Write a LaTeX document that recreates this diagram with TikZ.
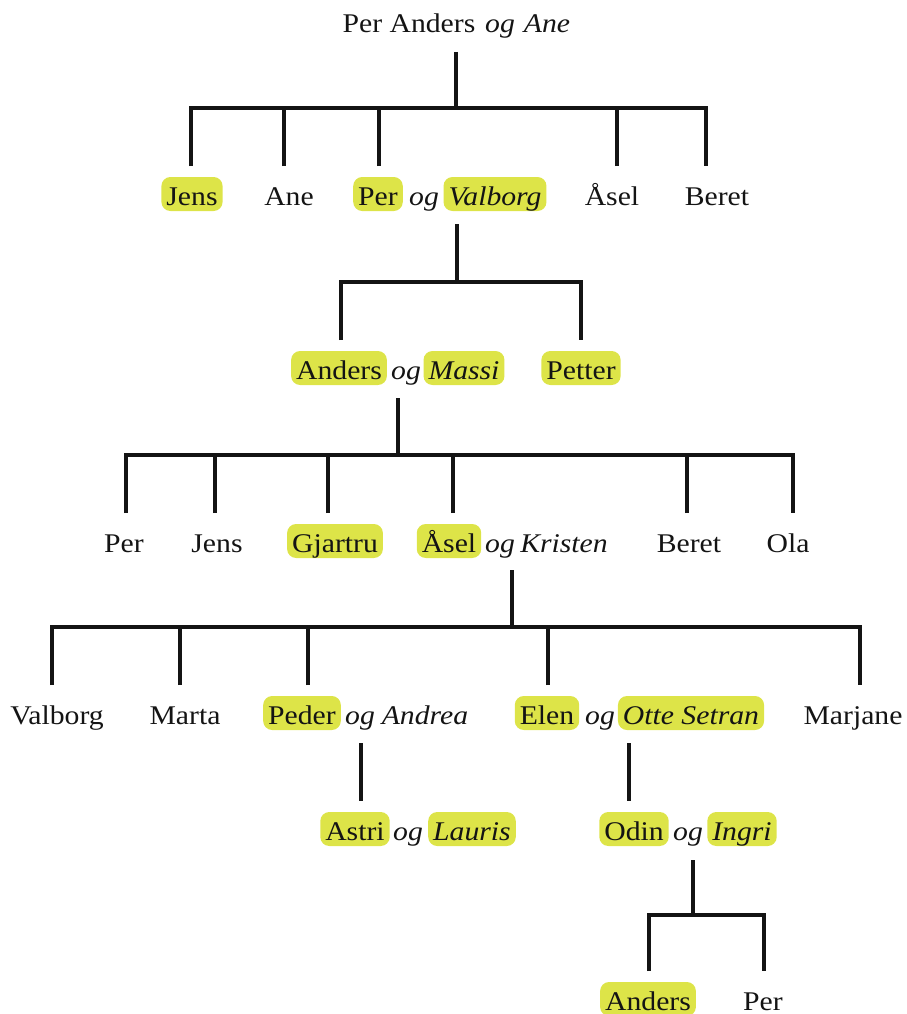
\documentclass[tikz,border=0pt]{standalone}
\usepackage{fontspec}
\setmainfont{Liberation Serif}[FakeStretch=1.1]
\usetikzlibrary{calc}
\definecolor{hlc}{RGB}{221,228,72}
\definecolor{ink}{RGB}{20,20,20}
\newcommand\kidpt[2]{\path (#1.north) ++(#2,-11) coordinate (#1-d);}
\begin{document}
\begin{tikzpicture}[x=1pt,y=-1pt,
  line/.style={line width=3.2pt, draw=ink, line join=miter, line cap=butt},
  nm/.style={font=\fontsize{27pt}{31pt}\selectfont, text=ink, inner xsep=5pt, inner ysep=0pt,
             text height=28pt, text depth=6pt, outer sep=0pt},
  it/.style={nm, font=\fontsize{27pt}{31pt}\selectfont\itshape},
  hl/.style={nm, fill=hlc, rounded corners=9pt},
  hlit/.style={it, fill=hlc, rounded corners=9pt}]
\useasboundingbox (0,0) rectangle (906,1014);

% ---- generation 0
\node[nm] (pa) at (409,22) {Per Anders};
\node[it] (og0) at (500,22) {og};
\node[it] (ane0) at (547,22) {Ane};
% ---- generation 1
\node[hl] (jens1) at (192,194) {Jens};
\node[nm] (ane1) at (289,194) {Ane};
\node[hl] (per1) at (378,194) {Per};
\node[it] (og1) at (424,194) {og};
\node[hlit] (valborg1) at (495,194) {Valborg};
\node[nm] (asel1) at (612,194) {Åsel};
\node[nm] (beret1) at (717,194) {Beret};
% ---- generation 2
\node[hl] (anders2) at (339,368) {Anders};
\node[it] (og2) at (406,368) {og};
\node[hlit] (massi2) at (464,368) {Massi};
\node[hl] (petter2) at (581,368) {Petter};
% ---- generation 3
\node[nm] (per3) at (124,541) {Per};
\node[nm] (jens3) at (217,541) {Jens};
\node[hl] (gjartru3) at (335,541) {Gjartru};
\node[hl] (asel3) at (449,541) {Åsel};
\node[it] (og3) at (500,541) {og};
\node[it] (kristen3) at (564,541) {Kristen};
\node[nm] (beret3) at (689,541) {Beret};
\node[nm] (ola3) at (788,541) {Ola};
% ---- generation 4
\node[nm] (valborg4) at (57,713) {Valborg};
\node[nm] (marta4) at (185,713) {Marta};
\node[hl] (peder4) at (302,713) {Peder};
\node[it] (og4a) at (360,713) {og};
\node[it] (andrea4) at (425,713) {Andrea};
\node[hl] (elen4) at (547,713) {Elen};
\node[it] (og4b) at (600,713) {og};
\node[hlit] (otte4) at (691,713) {Otte Setran};
\node[nm] (marjane4) at (853,713) {Marjane};
% ---- generation 5
\node[hl] (astri5) at (355,829) {Astri};
\node[it] (og5a) at (408,829) {og};
\node[hlit] (lauris5) at (472,829) {Lauris};
\node[hl] (odin5) at (634,829) {Odin};
\node[it] (og5b) at (688,829) {og};
\node[hlit] (ingri5) at (742,829) {Ingri};
% ---- generation 6
\node[hl] (anders6) at (648,999) {Anders};
\node[nm] (per6) at (763,999) {Per};

% ---- couple stems and bar levels
\coordinate (c0) at (456,52);
\coordinate (c1) at (457,224);
\coordinate (c2) at (398,398);
\coordinate (c3) at (512,570);
\coordinate (c4a) at (361,743);
\coordinate (c4b) at (629,743);
\coordinate (c5) at (693,860);
\coordinate (b0) at (0,108);
\coordinate (b1) at (0,282);
\coordinate (b2) at (0,455);
\coordinate (b3) at (0,627);
\coordinate (b5) at (0,915);

% ---- drop points above the children
\kidpt{jens1}{-1}\kidpt{ane1}{-5}\kidpt{per1}{1}\kidpt{asel1}{5}\kidpt{beret1}{-11}
\kidpt{anders2}{2}\kidpt{petter2}{0}
\kidpt{per3}{2}\kidpt{jens3}{-2}\kidpt{gjartru3}{-7}\kidpt{asel3}{4}\kidpt{beret3}{-2}\kidpt{ola3}{5}
\kidpt{valborg4}{-5}\kidpt{marta4}{-5}\kidpt{peder4}{6}\kidpt{elen4}{1}\kidpt{marjane4}{7}
\kidpt{anders6}{1}\kidpt{per6}{1}

% ---- family of Per Anders og Ane
\draw[line] (c0) -- (c0 |- b0);
\draw[line] (jens1-d) -- (jens1-d |- b0) -- (beret1-d |- b0) -- (beret1-d);
\draw[line] (ane1-d) -- (ane1-d |- b0);
\draw[line] (per1-d) -- (per1-d |- b0);
\draw[line] (asel1-d) -- (asel1-d |- b0);
% ---- family of Per og Valborg
\draw[line] (c1) -- (c1 |- b1);
\draw[line] (anders2-d) -- (anders2-d |- b1) -- (petter2-d |- b1) -- (petter2-d);
% ---- family of Anders og Massi
\draw[line] (c2) -- (c2 |- b2);
\draw[line] (per3-d) -- (per3-d |- b2) -- (ola3-d |- b2) -- (ola3-d);
\draw[line] (jens3-d) -- (jens3-d |- b2);
\draw[line] (gjartru3-d) -- (gjartru3-d |- b2);
\draw[line] (asel3-d) -- (asel3-d |- b2);
\draw[line] (beret3-d) -- (beret3-d |- b2);
% ---- family of Åsel og Kristen
\draw[line] (c3) -- (c3 |- b3);
\draw[line] (valborg4-d) -- (valborg4-d |- b3) -- (marjane4-d |- b3) -- (marjane4-d);
\draw[line] (marta4-d) -- (marta4-d |- b3);
\draw[line] (peder4-d) -- (peder4-d |- b3);
\draw[line] (elen4-d) -- (elen4-d |- b3);
% ---- single children
\draw[line] (c4a) -- ($(c4a |- astri5.north)+(0,-11)$);
\draw[line] (c4b) -- ($(c4b |- odin5.north)+(0,-11)$);
% ---- family of Odin og Ingri
\draw[line] (c5) -- (c5 |- b5);
\draw[line] (anders6-d) -- (anders6-d |- b5) -- (per6-d |- b5) -- (per6-d);
\end{tikzpicture}
\end{document}
